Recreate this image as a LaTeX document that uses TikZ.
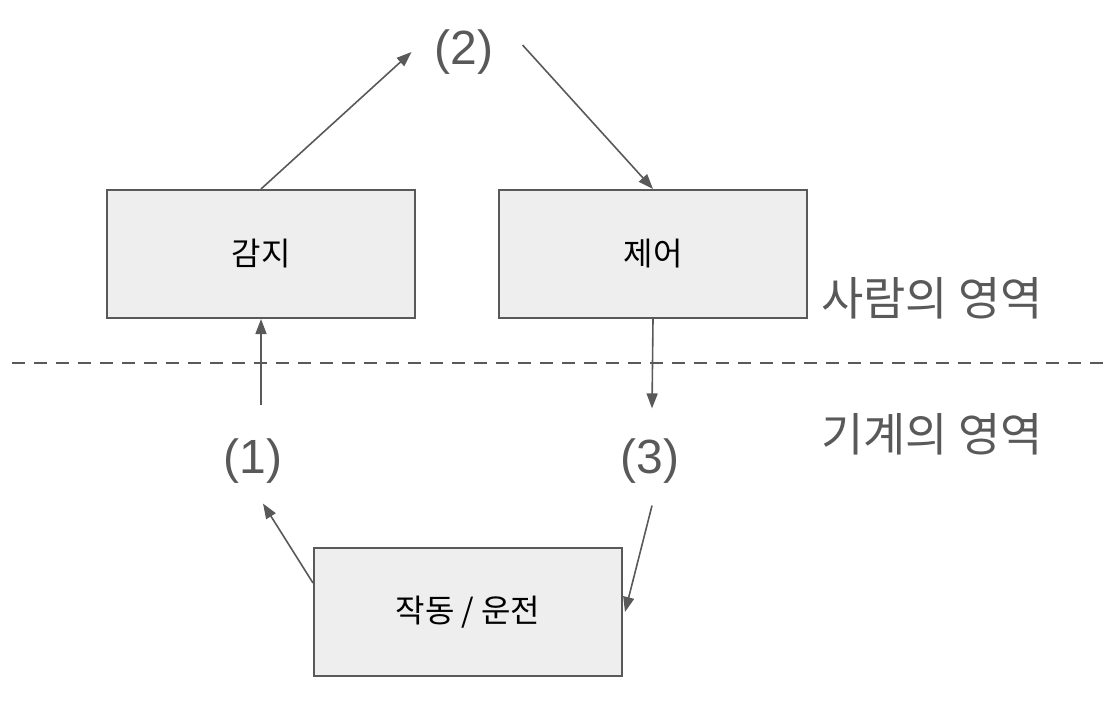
\documentclass[tikz,border=0pt]{standalone}
\usepackage{fontspec}
\setmainfont{Liberation Sans}
\newfontfamily\kr{Noto Sans CJK KR}
\usetikzlibrary{arrows.meta}
\definecolor{linegray}{HTML}{595959}
\definecolor{boxgray}{HTML}{EEEEEE}

\tikzset{
  stagebox/.style={draw=linegray, line width=2pt, fill=boxgray,
    minimum width=308pt, minimum height=128pt, inner sep=0pt,
    font=\kr\fontsize{32}{36}\selectfont},
  steplabel/.style={text=linegray, inner sep=0pt,
    font=\fontsize{48}{54}\selectfont},
  zonelabel/.style={text=linegray, inner sep=0pt, anchor=west,
    font=\kr\fontsize{46}{52}\selectfont},
  flow/.style={draw=linegray, line width=1.6pt,
    -{Triangle[length=15pt,width=11pt]}}
}

\begin{document}
\begin{tikzpicture}[x=1pt, y=-1pt]
    \useasboundingbox (0,0) rectangle (1108,712);

    % Boites
    \node[stagebox] (sense) at (261,254) {감지};
    \node[stagebox] (control) at (653,254) {제어};
    \node[stagebox] (act) at (468,612) {작동 / 운전};

    % Etapes
    \node[steplabel] (two) at (464,52) {(2)};
    \node[steplabel] (one) at (253,461) {(1)};
    \node[steplabel] (three) at (650,461) {(3)};

    % Zones
    \node[zonelabel] (human) at (821,298) {사람의 영역};
    \node[zonelabel] (machine) at (821,434) {기계의 영역};

    % Frontiere
    \coordinate (lineL) at (12,363);
    \coordinate (lineR) at (1108,363);
    \draw[linegray, line width=1.4pt, dash pattern=on 13pt off 9pt] (lineL) -- (lineR);

    % Fleches
    \draw[flow] (sense.north) -- ([xshift=-23pt]two.west);
    \draw[flow] ([xshift=29pt,yshift=7pt]two.east) -- (control.north);
    \draw[flow] (control.south) -- ([xshift=2pt,yshift=30pt]three.north);
    \draw[flow] ([xshift=8pt,yshift=33pt]one.north) -- (sense.south);
    \draw[flow] ([yshift=29pt]act.west) -- ([xshift=10pt,yshift=-20pt]one.south);
    \draw[flow] ([xshift=2pt,yshift=-22pt]three.south) -- ([xshift=2pt]act.east);
\end{tikzpicture}
\end{document}
